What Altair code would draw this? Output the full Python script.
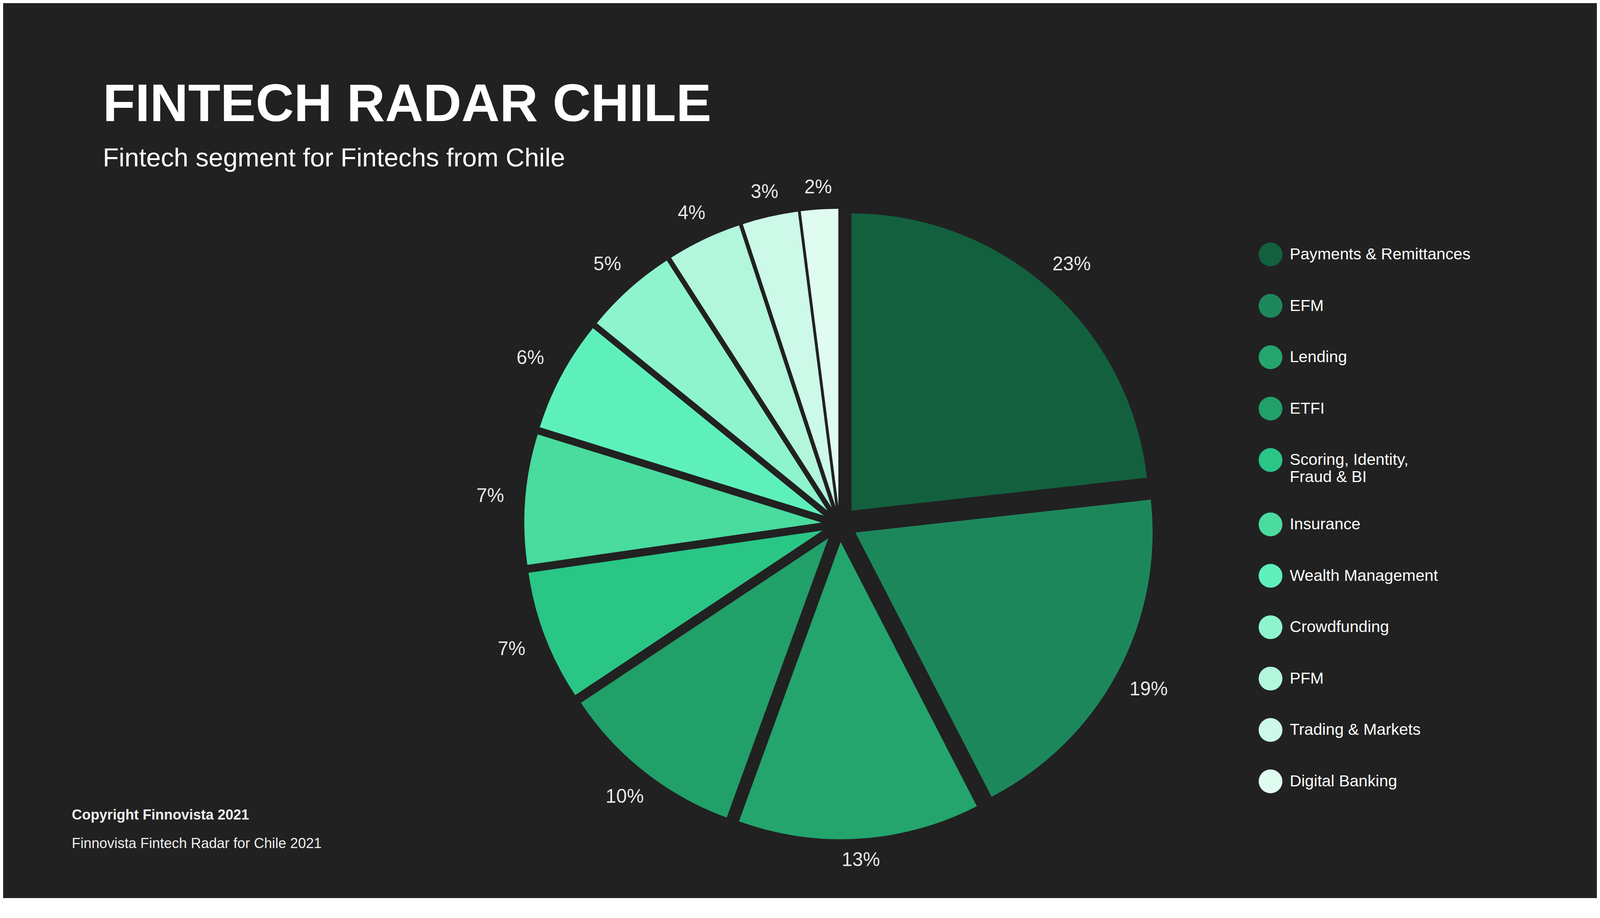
import altair as alt
import pandas as pd

# ---- data ----
categories = [
    "Payments & Remittances", "EFM", "Lending", "ETFI",
    "Scoring, Identity, Fraud & BI", "Insurance", "Wealth Management",
    "Crowdfunding", "PFM", "Trading & Markets", "Digital Banking",
]
shares = [23, 19, 13, 10, 7, 7, 6, 5, 4, 3, 2]
colors = [
    "#13603f", "#1d875c", "#23a56d", "#21a06a", "#29c686", "#4adb9e",
    "#5ef0bb", "#8ef4cd", "#b2f6dc", "#cdf9e8", "#e0fbf0",
]

TITLE = "FINTECH RADAR CHILE"
SUBTITLE = "Fintech segment for Fintechs from Chile"
FOOTER_1 = "Copyright Finnovista 2021"
FOOTER_2 = "Finnovista Fintech Radar for Chile 2021"

# ---- layout / style ----
BG = "#212121"
FONT = "Liberation Sans"
W, H = 4156, 1872
CX, CY = 2181, 918        # pie centre inside the plot area (px)
EXPLODE = 47              # every slice pulled out along its bisector (px)
R = 775                   # outer radius (px)
TOTAL = sum(shares)

df = pd.DataFrame({"segment": categories, "share": shares,
                   "order": list(range(len(categories)))})

base = (
    alt.Chart(df)
    .transform_window(end="sum(share)", sort=[alt.SortField("order")], frame=[None, 0])
    .transform_calculate(start="datum.end - datum.share")
    .transform_calculate(mid="(datum.start + datum.end) / 2")
    .transform_calculate(ang=f"2 * PI * datum.mid / {TOTAL}")
    .transform_calculate(ex="sin(datum.ang)")
    .transform_calculate(ey="cos(datum.ang)")
    .transform_calculate(lr="855 + 57 * abs(sin(datum.ang)) + 20 * abs(cos(datum.ang))")
    .transform_calculate(lbl="datum.share + '%'")
)

theta_scale = alt.Scale(domain=[0, TOTAL])
x_scale = alt.Scale(domain=[-CX / EXPLODE, (W - CX) / EXPLODE], nice=False, zero=False)
y_scale = alt.Scale(domain=[-(H - CY) / EXPLODE, CY / EXPLODE], nice=False, zero=False)

label_expr = ("datum.label == 'Scoring, Identity, Fraud & BI' ? "
              "['Scoring, Identity,', 'Fraud & BI'] : datum.label")

arcs = base.mark_arc(outerRadius=R, strokeWidth=0).encode(
    theta=alt.Theta("start:Q", scale=theta_scale, stack=False),
    theta2="end:Q",
    x=alt.X("ex:Q", scale=x_scale, axis=None),
    y=alt.Y("ey:Q", scale=y_scale, axis=None),
    color=alt.Color(
        "segment:N",
        scale=alt.Scale(domain=categories, range=colors),
        legend=alt.Legend(
            title=None, orient="none", legendX=3274, legendY=184,
            symbolType="circle", symbolSize=3844, symbolStrokeWidth=0,
            symbolOpacity=1, labelFont=FONT, labelFontSize=42,
            labelColor="#ffffff", labelOffset=19, rowPadding=72,
            labelLimit=1200, padding=0, labelExpr=label_expr,
        ),
    ),
    tooltip=["segment:N", "share:Q"],
)

labels = base.mark_text(font=FONT, fontSize=50, color="#e8e8e8",
                        align="center", baseline="middle").encode(
    theta=alt.Theta("mid:Q", scale=theta_scale, stack=False),
    radius=alt.Radius("lr:Q", scale=None),
    x=alt.datum(0),
    y=alt.datum(0),
    text="lbl:N",
)

foot1 = alt.Chart(pd.DataFrame({"t": [FOOTER_1]})).mark_text(
    font=FONT, fontSize=37, fontWeight="bold", color="#eeeeee",
    align="left", baseline="alphabetic",
).encode(text="t:N", x=alt.value(179), y=alt.value(1689))

foot2 = alt.Chart(pd.DataFrame({"t": [FOOTER_2]})).mark_text(
    font=FONT, fontSize=37, color="#eeeeee",
    align="left", baseline="alphabetic",
).encode(text="t:N", x=alt.value(179), y=alt.value(1763))

chart = (
    alt.layer(arcs, labels, foot1, foot2)
    .properties(
        width=W, height=H,
        padding={"left": 0, "top": 176, "right": 0, "bottom": 0},
        background=BG,
        title=alt.TitleParams(
            TITLE, subtitle=SUBTITLE, anchor="start", frame="group",
            dx=260, offset=0, font=FONT, fontSize=138, fontWeight="bold",
            color="#ffffff", subtitleFont=FONT, subtitleFontSize=68,
            subtitleColor="#ffffff", subtitlePadding=35,
        ),
    )
    .configure_view(stroke=None)
)

chart.save("out.html", embed_options={"renderer": "svg", "actions": False})
